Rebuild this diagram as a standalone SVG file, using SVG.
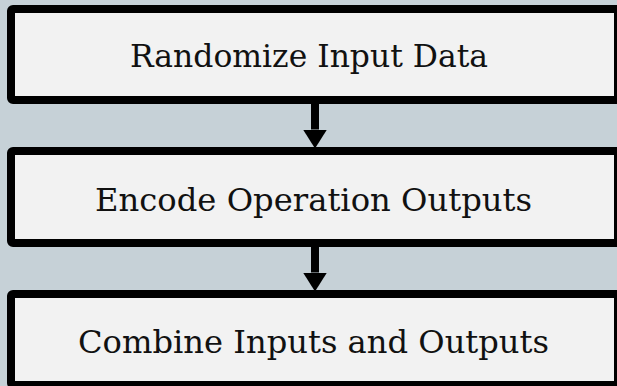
<svg xmlns="http://www.w3.org/2000/svg" width="617" height="386" viewBox="0 0 617 386">
  <style>
    .box { fill: #f2f2f2; stroke: #000; stroke-width: 8; }
    .lbl { font-family: "DejaVu Serif", "Liberation Serif", serif; font-size: 32px; fill: #111; text-anchor: middle; }
    .conn { stroke: #000; stroke-width: 8; fill: none; }
  </style>
  <defs>
    <marker id="ah" markerUnits="userSpaceOnUse" viewBox="0 -12 19 24" refX="0" refY="0" markerWidth="19" markerHeight="24" orient="auto">
      <path d="M0,-12 L19,0 L0,12 Z" fill="#000"/>
    </marker>
  </defs>
  <rect x="0" y="0" width="617" height="386" fill="#c6d1d7"/>
  <g id="connectors">
    <path class="conn" d="M315,103 V129.5" marker-end="url(#ah)"/>
    <path class="conn" d="M315,246 V272.5" marker-end="url(#ah)"/>
  </g>
  <g id="node1">
    <rect class="box" x="11" y="9" width="607" height="91" rx="2"/>
    <text class="lbl" x="309" y="67" textLength="358" lengthAdjust="spacingAndGlyphs">Randomize Input Data</text>
  </g>
  <g id="node2">
    <rect class="box" x="11" y="151" width="607" height="92" rx="2"/>
    <text class="lbl" x="313.5" y="211" textLength="437" lengthAdjust="spacingAndGlyphs">Encode Operation Outputs</text>
  </g>
  <g id="node3">
    <rect class="box" x="11" y="294" width="607" height="91" rx="2"/>
    <text class="lbl" x="313.5" y="353" textLength="471" lengthAdjust="spacingAndGlyphs">Combine Inputs and Outputs</text>
  </g>
</svg>
